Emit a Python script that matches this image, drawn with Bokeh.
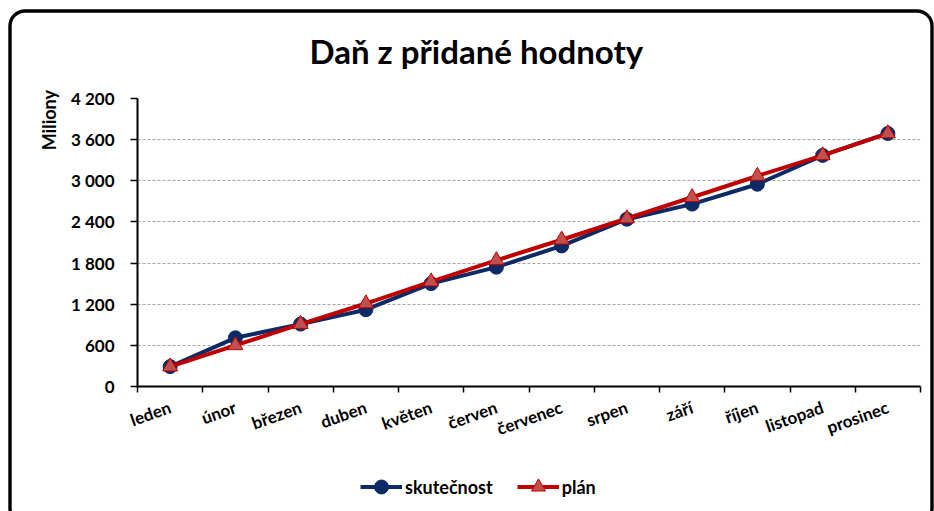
from urllib.parse import quote
from bokeh.plotting import figure
from bokeh.layouts import column
from bokeh.models import (Range1d, FixedTicker, Legend, LegendItem, Title,
                          ColumnDataSource)
from bokeh.embed import file_html
from bokeh.resources import INLINE

# ---- data ----
months = ["leden", "únor", "březen", "duben", "květen", "červen", "červenec",
          "srpen", "září", "říjen", "listopad", "prosinec"]
skutecnost = [290, 710, 910, 1120, 1500, 1740, 2050, 2440, 2660, 2950, 3370, 3690]
plan = [290, 600, 910, 1210, 1530, 1840, 2140, 2450, 2760, 3070, 3370, 3690]
y_ticks = [0, 600, 1200, 1800, 2400, 3000, 3600, 4200]
y_tick_labels = ["0", "600", "1 200", "1 800", "2 400", "3 000", "3 600", "4 200"]
title_text = "Daň z přidané hodnoty"
y_unit_label = "Miliony"
series_names = ["skutečnost", "plán"]

FONT = "Lato"
NAVY = "#0b2a66"
RED = "#c00000"
TRI_FILL = "#c0504d"

xpos = [i + 0.5 for i in range(len(months))]
src = ColumnDataSource(dict(x=xpos, s=skutecnost, p=plan))

W, H1, H2 = 934, 462, 49

# ---------------- main chart ----------------
p = figure(width=W, height=H1, output_backend="svg", toolbar_location=None,
           x_range=Range1d(0, len(months)), y_range=Range1d(0, 4200),
           min_border_left=137, min_border_right=14, min_border_top=97,
           min_border_bottom=H1 - 386)
p.outline_line_color = None
p.background_fill_color = "white"
p.border_fill_color = None

xa = p.xaxis[0]
xa.ticker = FixedTicker(ticks=xpos, minor_ticks=list(range(len(months) + 1)))
xa.major_label_overrides = {x: m for x, m in zip(xpos, months)}
xa.major_label_orientation = 0.34
xa.major_tick_out = 0
xa.major_tick_in = 0
xa.minor_tick_out = 6
xa.minor_tick_in = 0
xa.minor_tick_line_color = "black"
xa.minor_tick_line_width = 1.5
xa.axis_line_color = "black"
xa.axis_line_width = 2
xa.major_label_text_font = FONT
xa.major_label_text_font_style = "bold"
xa.major_label_text_font_size = "17px"
xa.major_label_text_color = "black"
xa.major_label_standoff = 14

ya = p.yaxis[0]
ya.ticker = FixedTicker(ticks=y_ticks, minor_ticks=[])
ya.major_label_overrides = {t: l for t, l in zip(y_ticks, y_tick_labels)}
ya.major_tick_out = 7
ya.major_tick_in = 0
ya.major_tick_line_color = "black"
ya.major_tick_line_width = 1.5
ya.axis_line_color = "black"
ya.axis_line_width = 2
ya.major_label_text_font = FONT
ya.major_label_text_font_style = "bold"
ya.major_label_text_font_size = "17px"
ya.major_label_text_color = "black"
ya.major_label_standoff = 16
# trailing no-break spaces move the unit label down from the axis end
ya.axis_label = y_unit_label + "\u00a0" * 10
ya.axis_label_text_font = FONT
ya.axis_label_text_font_style = "bold"
ya.axis_label_text_font_size = "18px"
ya.axis_label_text_color = "black"
ya.axis_label_standoff = 8
ya.axis_label_align = "end"

p.xgrid.grid_line_color = None
p.ygrid.ticker = FixedTicker(ticks=y_ticks[1:])
p.ygrid.grid_line_color = "#a6a6a6"
p.ygrid.grid_line_dash = "3 2"
p.ygrid.grid_line_width = 1

p.line("x", "s", source=src, line_color=NAVY, line_width=4)
p.scatter("x", "s", source=src, marker="circle", size=14,
          fill_color=NAVY, line_color=NAVY)
p.line("x", "p", source=src, line_color=RED, line_width=4)
p.scatter("x", "p", source=src, marker="triangle", size=15,
          fill_color=TRI_FILL, line_color=RED, line_width=1)

p.title = Title(text=title_text, text_font=FONT, text_font_style="bold",
                text_font_size="33px", text_color="black", align="left",
                offset=172, vertical_align="bottom", standoff=56)

# ---------------- legend strip ----------------
q = figure(width=W, height=H2, output_backend="svg", toolbar_location=None,
           x_range=Range1d(100, 101), y_range=Range1d(100, 101),
           x_axis_location=None, y_axis_location=None,
           min_border_left=0, min_border_right=0, min_border_top=0,
           min_border_bottom=0)
q.outline_line_color = None
q.background_fill_color = None
q.border_fill_color = None
q.grid.visible = False
k1 = q.line("x", "s", source=src, line_color=NAVY, line_width=4)
k1m = q.scatter("x", "s", source=src, marker="circle", size=14,
                fill_color=NAVY, line_color=NAVY)
k2 = q.line("x", "p", source=src, line_color=RED, line_width=4)
k2m = q.scatter("x", "p", source=src, marker="triangle", size=15,
                fill_color=TRI_FILL, line_color=RED, line_width=1)
legend = Legend(items=[LegendItem(label=series_names[0], renderers=[k1, k1m]),
                       LegendItem(label=series_names[1], renderers=[k2, k2m])],
                orientation="horizontal", location=(223, 7),
                glyph_width=42, glyph_height=35, label_height=35,
                label_standoff=3, spacing=24, padding=0, margin=0,
                border_line_color=None, background_fill_alpha=0,
                label_text_font=FONT, label_text_font_style="bold",
                label_text_font_size="18px", label_text_color="black")
q.add_layout(legend, "center")

# rounded chart-area border behind both parts
svg_border = ("<svg xmlns='http://www.w3.org/2000/svg' width='934' height='511'>"
              "<rect x='10' y='11' width='922' height='512' rx='15' ry='15' "
              "fill='white' stroke='black' stroke-width='3.4'/></svg>")
layout = column(p, q, spacing=0)
layout.styles = {"background-image": "url(\"data:image/svg+xml," + quote(svg_border) + "\")",
                 "background-repeat": "no-repeat",
                 "background-color": "white"}

open("out.html", "w").write(file_html(layout, INLINE))
